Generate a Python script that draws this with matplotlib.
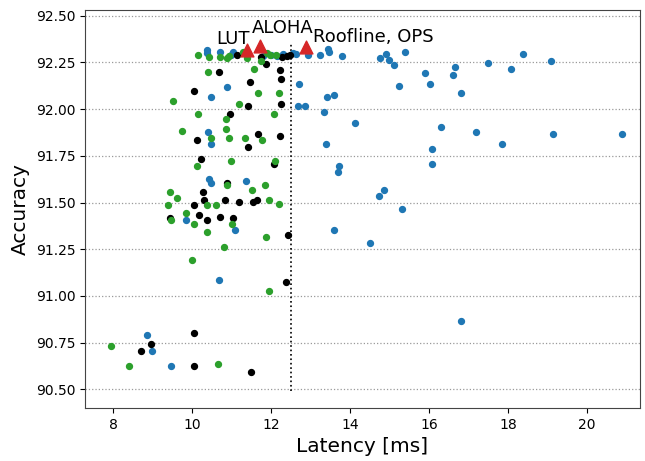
import matplotlib
matplotlib.use('Agg')
import matplotlib.pyplot as plt
from matplotlib.ticker import FormatStrFormatter

# search samples, one list pair per group
blue_lat = [10.38, 10.38, 10.71, 11.04, 10.99, 11.80, 12.00, 12.15, 12.30, 12.56, 12.63, 12.94,
            13.24, 13.44, 13.47, 13.80,
            10.89, 10.48, 10.41, 10.48, 10.43, 10.48, 11.37, 9.85, 11.09, 10.68, 8.86, 8.99, 9.47,
            12.71, 12.68, 12.86, 13.34, 13.42, 13.59, 13.39, 13.72, 13.70, 13.59, 14.13, 14.51,
            14.73, 14.86, 15.32, 16.08, 16.08, 16.30, 17.19, 17.85, 19.14, 20.89, 16.81,
            14.76, 14.91, 14.99, 15.11, 15.24, 15.39, 15.90, 16.03, 16.61, 16.66, 16.81, 17.49,
            18.08, 18.38, 19.09]
blue_acc = [92.318, 92.302, 92.307, 92.307, 92.291, 92.286, 92.291, 92.286, 92.296, 92.302, 92.296, 92.291,
            92.291, 92.323, 92.307, 92.286,
            92.120, 92.066, 91.879, 91.814, 91.627, 91.605, 91.616, 91.407, 91.354, 91.086, 90.791, 90.706, 90.625,
            92.136, 92.018, 92.018, 91.986, 92.066, 92.077, 91.814, 91.697, 91.664, 91.354, 91.927, 91.284,
            91.536, 91.568, 91.466, 91.788, 91.707, 91.905, 91.879, 91.814, 91.868, 91.868, 90.866,
            92.275, 92.296, 92.264, 92.238, 92.125, 92.307, 92.195, 92.136, 92.184, 92.227, 92.088, 92.248,
            92.216, 92.296, 92.259]

black_lat = [11.47, 12.25, 10.05, 11.42, 12.25, 10.96, 11.67, 12.23, 10.13, 11.42, 10.23, 12.08,
             10.89, 10.28, 10.30, 10.84, 11.19, 11.54, 11.65, 10.05, 10.18, 10.71, 9.44, 11.04,
             10.38, 12.43, 12.38, 10.05, 8.96, 8.71, 10.05, 11.49,
             11.14, 11.75, 11.88, 12.23, 10.68, 12.28, 12.41, 12.48]
black_acc = [92.146, 92.162, 92.098, 92.018, 92.029, 91.975, 91.868, 91.857, 91.836, 91.798, 91.734, 91.707,
             91.605, 91.557, 91.514, 91.514, 91.504, 91.504, 91.514, 91.488, 91.434, 91.423, 91.418, 91.418,
             91.407, 91.327, 91.075, 90.802, 90.743, 90.706, 90.625, 90.593,
             92.291, 92.280, 92.243, 92.211, 92.200, 92.280, 92.286, 92.291]

green_lat = [10.15, 10.43, 10.71, 10.89, 10.94, 11.29, 11.39, 11.75, 11.90, 11.97, 12.13,
             10.41, 9.52, 11.19, 11.57, 11.67, 12.20, 10.15, 10.86, 12.08, 9.75, 10.86, 10.48,
             10.94, 11.34, 11.77, 10.99, 12.10, 10.13, 10.89, 11.52, 11.85, 9.44, 9.62, 9.39,
             10.38, 10.61, 11.95, 12.20, 9.85, 9.47, 10.05, 11.01, 10.38, 11.87, 10.81, 10.00,
             11.95, 7.95, 8.41, 10.66]
green_acc = [92.291, 92.280, 92.280, 92.275, 92.286, 92.307, 92.275, 92.259, 92.302, 92.291, 92.291,
             92.200, 92.045, 92.029, 92.216, 92.088, 92.088, 91.975, 91.948, 91.975, 91.884, 91.895, 91.847,
             91.847, 91.847, 91.836, 91.723, 91.723, 91.697, 91.595, 91.568, 91.595, 91.557, 91.525, 91.488,
             91.488, 91.488, 91.514, 91.493, 91.445, 91.407, 91.386, 91.386, 91.343, 91.316, 91.263, 91.193,
             91.027, 90.732, 90.625, 90.636]

# reference designs
ref_names = ['LUT', 'ALOHA', 'Roofline, OPS']
ref_lat = [11.39, 11.72, 12.89]
ref_acc = [92.318, 92.340, 92.330]

latency_limit = 12.5

fig = plt.figure(figsize=(6.45, 4.61), dpi=100)
ax = fig.add_axes([0.132, 0.115, 0.860, 0.863])

ax.grid(True, axis='y', linestyle=':', color='#999999', linewidth=0.9)
ax.set_axisbelow(True)

ax.scatter(blue_lat, blue_acc, s=18, color='#1f77b4', zorder=3)
ax.scatter(black_lat, black_acc, s=18, color='black', zorder=3)
ax.scatter(green_lat, green_acc, s=18, color='#2ca02c', zorder=3)

ax.vlines(latency_limit, 90.49, 92.35, colors='black', linestyles=':', linewidth=1.2, zorder=2)

ax.scatter(ref_lat, ref_acc, s=85, marker='^', color='#d62728', zorder=4)
offsets = [(-10, 1.5, 'center'), (16, 6, 'center'), (5, 1, 'left')]
for name, x, y, (dx, dy, ha) in zip(ref_names, ref_lat, ref_acc, offsets):
    ax.annotate(name, (x, y), xytext=(dx, dy), textcoords='offset points',
                ha=ha, va='bottom', fontsize=13)

ax.set_xlim(7.29, 21.34)
ax.set_ylim(90.40, 92.53)
ax.set_xticks([8, 10, 12, 14, 16, 18, 20])
ax.set_yticks([90.50, 90.75, 91.00, 91.25, 91.50, 91.75, 92.00, 92.25, 92.50])
ax.yaxis.set_major_formatter(FormatStrFormatter('%.2f'))
ax.tick_params(labelsize=10)
for sp in ax.spines.values():
    sp.set_color('#444444')

ax.set_xlabel('Latency [ms]', fontsize=14.5)
ax.set_ylabel('Accuracy', fontsize=14.5)

fig.savefig('out.png', dpi=100)
